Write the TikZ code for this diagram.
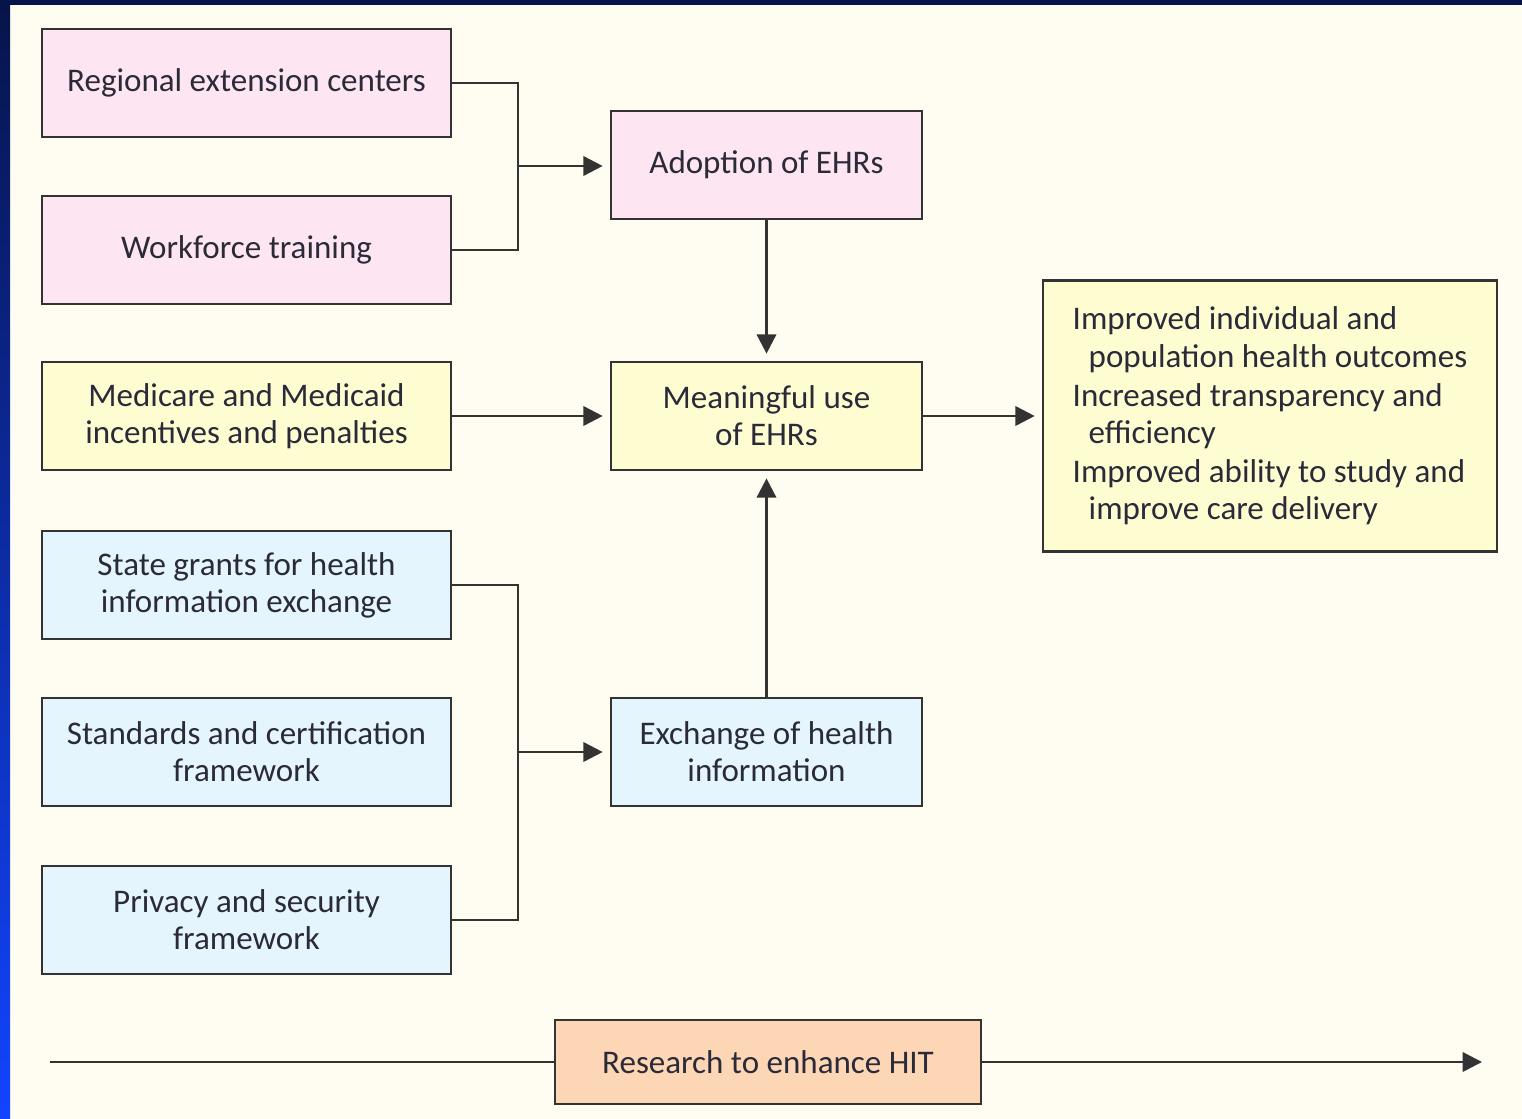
\documentclass[tikz,border=0pt]{standalone}
\usepackage{fontspec}
\setmainfont{Carlito}
\usepackage{tikz}
\usetikzlibrary{arrows.meta, positioning}

\definecolor{bgcream}{HTML}{FFFDF2}
\definecolor{navyband}{HTML}{07144A}
\definecolor{blueband}{HTML}{1244FF}
\definecolor{boxline}{HTML}{333333}
\definecolor{textdark}{HTML}{2A2A38}
\definecolor{pinkfill}{HTML}{FDE6F1}
\definecolor{yellowfill}{HTML}{FEFDD2}
\definecolor{bluefill}{HTML}{E4F5FD}
\definecolor{orangefill}{HTML}{FDD6B6}

\begin{document}
\begin{tikzpicture}[x=0.02cm, y=-0.02cm,
    box/.style={draw=boxline, line width=1.5pt, text=textdark, align=center,
        inner sep=0pt, font=\fontsize{18.8}{21.2}\selectfont},
    leftbox/.style={box, minimum width=8.18cm, minimum height=2.16cm},
    midbox/.style={box, minimum width=6.22cm, minimum height=2.16cm},
    link/.style={draw=boxline, line width=1.5pt},
    arr/.style={link, -{Triangle[length=11pt, width=11pt]}, shorten >=4pt}]

    % background and frame bands
    \fill[bgcream] (0,0) rectangle (1522,1119);
    \shade[top color=navyband, bottom color=blueband] (0,0) rectangle (10,1119);
    \fill[navyband] (0,0) rectangle (1522,5);

    % left column
    \node[leftbox, fill=pinkfill] (regional) at (246.5,83) {Regional extension centers};
    \node[leftbox, fill=pinkfill] (workforce) at (246.5,250) {Workforce training};
    \node[leftbox, fill=yellowfill] (medicare) at (246.5,416) {Medicare and Medicaid\\incentives and penalties};
    \node[leftbox, fill=bluefill] (grants) at (246.5,585) {State grants for health\\information exchange};
    \node[leftbox, fill=bluefill] (standards) at (246.5,752) {Standards and certification\\framework};
    \node[leftbox, fill=bluefill] (privacy) at (246.5,920) {Privacy and security\\framework};

    % middle column
    \node[midbox, fill=pinkfill] (adoption) at (766.5,165) {Adoption of EHRs};
    \node[midbox, fill=yellowfill] (meaningful) at (766.5,416) {Meaningful use\\of EHRs};
    \node[midbox, fill=bluefill] (exchange) at (766.5,752) {Exchange of health\\information};

    % outcomes
    \node[box, fill=yellowfill, minimum width=9.08cm, minimum height=5.42cm, align=left] (outcomes) at (1270,416)
        {Improved individual and\\\hspace*{0.32cm}population health outcomes\\[1pt]
         Increased transparency and\\\hspace*{0.32cm}efficiency\\[1pt]
         Improved ability to study and\\\hspace*{0.32cm}improve care delivery};

    % research
    \node[box, fill=orangefill, minimum width=8.52cm, minimum height=1.68cm] (research) at (768,1062) {Research to enhance HIT};
    \coordinate (timestart) at (50,1062);
    \coordinate (timeend) at (1482,1062);

    % connectors
    \coordinate (pinkbus) at (518,166);
    \coordinate (bluebus) at (518,752);
    \draw[link] (regional.east) -| (pinkbus) |- (workforce.east);
    \draw[arr] (pinkbus) -- (pinkbus -| adoption.west);
    \draw[link] (grants.east) -| (bluebus) |- (privacy.east);
    \draw[arr] (bluebus) -- (exchange.west);
    \draw[arr] (adoption.south) -- (meaningful.north);
    \draw[arr] (exchange.north) -- (meaningful.south);
    \draw[arr] (medicare.east) -- (meaningful.west);
    \draw[arr] (meaningful.east) -- (outcomes.west);
    \draw[link] (timestart) -- (research.west);
    \draw[arr, shorten >=0pt] (research.east) -- (timeend);
\end{tikzpicture}
\end{document}
